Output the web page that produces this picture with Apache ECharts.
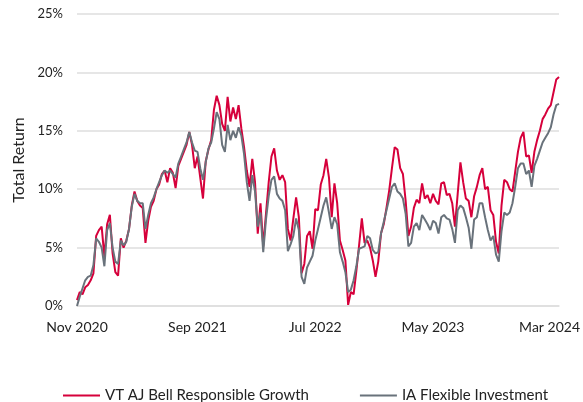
<!DOCTYPE html>
<html lang="en">
<head>
  <meta charset="UTF-8">
  <title>Total Return</title>
  <script src="https://cdn.jsdelivr.net/npm/echarts@6/dist/echarts.min.js"></script>
  <style>
    html, body { margin: 0; padding: 0; background: #fff; }
    #chart { width: 583px; height: 402px; }
  </style>
</head>
<body>
  <div id="chart"></div>

  <script type="text/javascript">

    // weekly points, first one on Monday 2 Nov 2020
    const startDate = Date.UTC(2020, 10, 2);
    const weekCount = 177;

    const tickDates = ['2020-11-02', '2021-09-06', '2022-07-04', '2023-05-01', '2024-03-04'];
    const monthNames = ['Jan', 'Feb', 'Mar', 'Apr', 'May', 'Jun', 'Jul', 'Aug', 'Sep', 'Oct', 'Nov', 'Dec'];

    const seriesNames = ['VT AJ Bell Responsible Growth', 'IA Flexible Investment'];

    // total return, %
    const ajBell = [
      0.5, 1.2, 1.0, 1.6, 1.8, 2.2, 2.8, 6.0, 6.5, 6.8,
      4.2, 7.0, 7.8, 4.5, 2.9, 2.6, 5.8, 5.0, 5.6, 6.6,
      8.6, 9.8, 9.0, 8.6, 8.4, 5.4, 7.3, 8.5, 9.0, 10.0,
      10.4, 11.3, 11.6, 10.6, 11.8, 11.4, 10.1, 12.0, 12.6, 13.2,
      13.8, 14.9, 13.8, 11.8, 12.8, 11.0, 9.2, 12.4, 13.4, 14.2,
      16.8, 18.0, 17.2, 15.6, 15.0, 17.9, 15.8, 17.0, 16.0, 17.2,
      15.2, 13.6, 11.6, 10.2, 12.6, 10.6, 6.2, 8.8, 5.1, 7.9,
      10.6, 12.8, 13.5, 11.6, 10.8, 11.2, 10.6, 6.6, 5.6, 7.5,
      9.3, 7.6, 2.8, 3.6, 6.0, 6.4, 4.9, 8.3, 8.2, 10.4,
      11.2, 12.6, 11.0, 7.6, 10.5, 8.8, 5.6, 4.8, 3.9, 0.1,
      1.2, 1.0, 3.0, 5.2, 7.5, 5.4, 5.6, 5.0, 3.9, 2.5,
      3.8, 6.2, 7.0, 8.4, 9.9, 11.8, 13.6, 13.4, 11.8, 11.3,
      9.0, 6.0, 6.8, 8.4, 9.1, 8.8, 10.5, 9.2, 9.5, 8.8,
      9.6, 9.0, 8.7, 10.5, 10.6, 9.5, 9.6, 8.8, 6.8, 9.6,
      12.3, 10.6, 9.2, 9.0, 7.6, 9.4, 10.2, 11.2, 11.8, 10.0,
      10.2, 8.2, 7.8, 5.5, 4.5, 8.6, 10.8, 10.6, 10.0, 9.8,
      11.5, 13.2, 14.4, 14.9, 12.8, 12.9, 11.4, 13.2, 14.2, 15.0,
      16.0, 16.4, 16.9, 17.2, 18.3, 19.4, 19.6
    ];

    const iaFlexible = [
      0.0, 0.8, 1.5, 2.2, 2.5, 2.6, 3.5, 5.8, 5.5, 5.0,
      3.4, 6.5, 7.1, 5.0, 3.8, 3.6, 5.6, 5.2, 5.5, 6.6,
      8.5, 9.6, 9.0, 8.8, 8.8, 6.6, 7.8, 8.8, 9.3, 10.0,
      10.6, 11.2, 11.6, 11.4, 11.6, 11.3, 11.0, 12.2, 12.8, 13.4,
      14.0, 14.9, 14.0, 13.3, 13.2, 11.8, 10.8, 12.3, 13.5, 14.0,
      15.2, 16.6, 16.0, 13.8, 13.2, 15.5, 14.2, 15.0, 14.4, 15.3,
      14.6, 13.0, 10.6, 9.0, 11.2, 9.8, 6.8, 8.0, 4.6, 7.4,
      9.4, 10.8, 11.1, 9.6, 9.2, 9.0, 8.2, 4.7, 5.3, 6.0,
      7.5, 6.5, 2.5, 1.9, 3.3, 3.8, 4.3, 5.6, 6.6, 7.6,
      8.6, 9.3, 8.0, 6.6, 7.6, 7.0, 4.6, 3.8, 2.9, 1.2,
      1.4, 2.2, 3.4, 4.9, 5.0, 5.1, 6.0, 5.8, 4.8, 4.5,
      4.6, 6.2, 7.2, 8.2, 9.2, 10.2, 10.5, 9.8, 9.6, 9.2,
      7.9, 5.1, 5.4, 6.8, 7.1, 6.5, 7.8, 7.4, 7.0, 6.5,
      7.3, 7.1, 6.2, 7.6, 7.8, 7.5, 7.4, 6.6, 5.4, 8.2,
      8.6, 8.4, 7.6, 6.7, 4.9, 7.4, 7.6, 8.8, 8.8, 7.6,
      6.5, 5.6, 6.0, 4.4, 3.8, 6.4, 8.0, 7.8, 8.0, 8.8,
      10.2, 11.8, 12.2, 12.2, 11.3, 11.6, 10.2, 12.0, 12.6, 13.3,
      14.0, 14.4, 14.8, 15.3, 16.4, 17.2, 17.3
    ];

    const colors = ['#d6003b', '#69727b'];
    const fontFamily = 'Lato, "Noto Sans", sans-serif';

    const dates = [];
    for (let i = 0; i < weekCount; ++i) {
      dates.push(new Date(startDate + i * 7 * 864e5).toISOString().slice(0, 10));
    }

    function monthLabel(value) {
      const d = new Date(value + 'T00:00:00Z');
      return monthNames[d.getUTCMonth()] + ' ' + d.getUTCFullYear();
    }

    const myChart = echarts.init(document.getElementById('chart'), null, { renderer: 'canvas' });

    const option = {
      animation: false,
      color: colors,
      textStyle: { fontFamily },
      grid: {
        left: 77,
        right: 21,
        top: 14,
        bottom: 96,
      },
      legend: {
        data: seriesNames,
        left: 58,
        top: 383,
        icon: 'rect',
        itemWidth: 37,
        itemHeight: 2,
        itemGap: 51,
        textStyle: { fontSize: 15, color: '#222', fontFamily },
      },
      xAxis: {
        type: 'category',
        data: dates,
        boundaryGap: false,
        axisLine: { lineStyle: { color: '#dedede', width: 1.5 } },
        axisTick: { show: false },
        axisLabel: {
          interval: (index, value) => tickDates.includes(value),
          margin: 14,
          fontSize: 14,
          color: '#222',
          fontFamily,
          formatter: (value) => value === tickDates[tickDates.length - 1]
            ? '{last|' + monthLabel(value) + '}'
            : monthLabel(value),
          rich: {
            last: { fontSize: 14, color: '#222', fontFamily, padding: [0, 8, 0, 0] },
          },
        },
      },
      yAxis: {
        type: 'value',
        min: 0,
        max: 25,
        interval: 5,
        name: 'Total Return',
        nameLocation: 'middle',
        nameGap: 48,
        nameTextStyle: { fontSize: 16, color: '#222', fontFamily },
        axisLine: { show: false },
        axisTick: { show: false },
        axisLabel: {
          formatter: '{value}%',
          margin: 14,
          fontSize: 13,
          color: '#222',
          fontFamily,
        },
        splitLine: { lineStyle: { color: '#dedede', width: 1.5 } },
      },
      series: [
        {
          name: seriesNames[0],
          type: 'line',
          data: ajBell,
          showSymbol: false,
          lineStyle: { width: 2 },
        },
        {
          name: seriesNames[1],
          type: 'line',
          data: iaFlexible,
          showSymbol: false,
          lineStyle: { width: 2 },
        },
      ],
    };
    myChart.setOption(option);
  </script>
</body>
</html>
